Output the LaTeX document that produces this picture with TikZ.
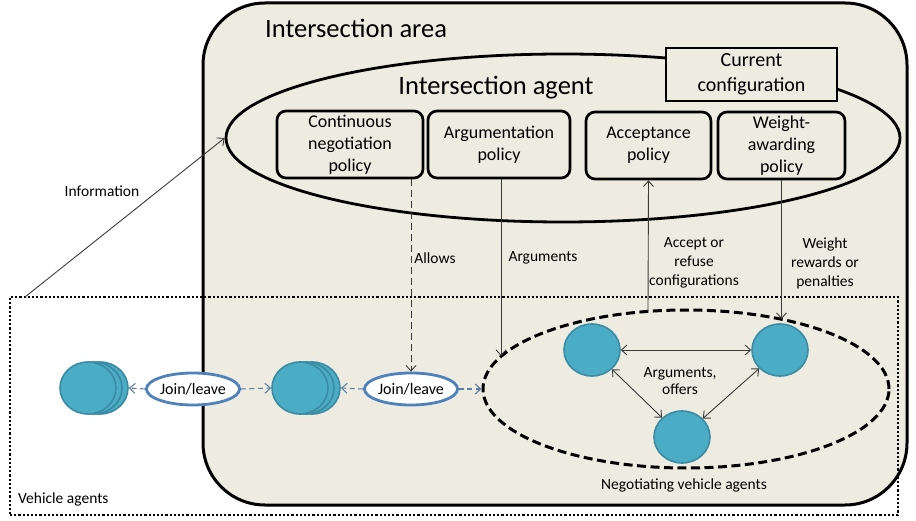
\documentclass[tikz,border=0pt]{standalone}
\usepackage{fontspec}
\setmainfont{Carlito}
\usetikzlibrary{shapes.geometric,arrows.meta}
\definecolor{beige}{HTML}{EEECE1}
\definecolor{vteal}{HTML}{4BACC6}
\definecolor{vborder}{HTML}{3A8BA3}
\definecolor{jlblue}{HTML}{4F81BD}
\definecolor{jlarrow}{HTML}{5F7FA6}
\definecolor{arrgray}{HTML}{3A3A3A}
\begin{document}
\begin{tikzpicture}[x=1pt,y=-1pt,
  policy/.style={draw, line width=2.7pt, rounded corners=9pt, fill=beige, align=center,
    font=\fontsize{18}{22}\selectfont, inner sep=0pt},
  veh/.style={ellipse, draw=vborder, fill=vteal, line width=1.6pt,
    minimum width=56pt, minimum height=52pt, inner sep=0pt},
  jl/.style={ellipse, draw=jlblue, fill=white, line width=2.8pt,
    minimum width=83pt, minimum height=32pt, inner sep=0pt, font=\fontsize{16}{19}\selectfont},
  lbl/.style={align=center, font=\fontsize{15.5}{19}\selectfont, inner sep=0pt},
  tip/.style={-{Straight Barb[length=5.5pt,width=10pt]}},
  thinarr/.style={draw=arrgray, line width=0.9pt, tip},
  dblarr/.style={draw=arrgray, line width=0.9pt,
    {Straight Barb[length=5.5pt,width=10pt]}-{Straight Barb[length=5.5pt,width=10pt]}},
  jlarr/.style={draw=jlarrow, line width=1.1pt, dash pattern=on 5pt off 3.5pt, tip}
]
\useasboundingbox (0,0) rectangle (916,521);

% Intersection area
\node[draw, line width=3pt, fill=beige, rounded corners=62pt,
  minimum width=704pt, minimum height=502pt, inner sep=0pt] (area) at (555,254) {};
\node[anchor=west, inner sep=0pt, font=\fontsize{26.5}{30}\selectfont] (areat) at (265,28) {Intersection area};

% Vehicle agents box
\node[draw, line width=2.4pt, dash pattern=on 2.2pt off 2pt,
  minimum width=888pt, minimum height=218pt, inner sep=0pt] (vbox) at (454,406) {};
\node[anchor=west, lbl] (vboxt) at (18,499) {Vehicle agents};

% Intersection agent
\node[ellipse, draw, line width=2.8pt, minimum width=674pt, minimum height=168pt, inner sep=0pt] (iag) at (563,138) {};
\node[inner sep=0pt, font=\fontsize{26.5}{30}\selectfont] (iagt) at (496,88) {Intersection agent};
\node[draw, line width=2.8pt, fill=beige, minimum width=171pt, minimum height=53pt, inner sep=0pt,
  align=center, font=\fontsize{20}{25}\selectfont] (cur) at (751.5,74.5) {Current\\configuration};

\node[policy, minimum width=146pt, minimum height=67pt] (cont) at (350,144.5) {Continuous\\negotiation\\policy};
\node[policy, minimum width=142pt, minimum height=67pt] (arg) at (499,144.5) {Argumentation\\policy};
\node[policy, minimum width=125pt, minimum height=67pt] (acc) at (648.5,145.5) {Acceptance\\policy};
\node[policy, minimum width=127pt, minimum height=67pt] (wt) at (781.5,145.5) {Weight-\\awarding\\policy};

% Negotiating vehicle agents
\node[ellipse, draw, line width=3pt, dash pattern=on 9pt off 4.5pt,
  minimum width=406pt, minimum height=158pt, inner sep=0pt] (neg) at (686,389) {};
\node[lbl] (negt) at (684,485) {Negotiating vehicle agents};
\node[veh] (n1) at (592,350) {};
\node[veh] (n2) at (780,350) {};
\node[veh] (n3) at (682,437) {};
\node[lbl, font=\fontsize{15.5}{16.5}\selectfont] (argoff) at (680,381) {Arguments,\\offers};
\draw[dblarr] (n1) -- (n2);
\draw[dblarr] (n1) -- (n3);
\draw[dblarr] (n2) -- (n3);

% Vehicle stacks
\node[veh] (s1c) at (100,388) {};
\node[veh] (s1b) at (94,388) {};
\node[veh] (s1a) at (88,388) {};
\node[veh] (s2c) at (312,388) {};
\node[veh] (s2b) at (306,388) {};
\node[veh] (s2a) at (300,388) {};

\node[jl] (jl1) at (193,389) {Join/leave};
\node[jl] (jl2) at (411,389) {Join/leave};

\draw[jlarr] (jl1.west) -- (s1c.east);
\draw[jlarr] (jl1.east) -- (s2a.west);
\draw[jlarr] (jl2.west) -- (s2c.east);
\draw[jlarr] (jl2.east) -- (neg.west);

% Policy connectors
\coordinate (argend) at (501,356);
\coordinate (accstart) at (648,311);
\coordinate (wtend) at (781.5,319);
\coordinate (infostart) at (25,297);

\draw[thinarr, dash pattern=on 7pt off 4pt] (jl2.north |- cont.south) -- (jl2.north);
\node[lbl] (allows) at (435,258) {Allows};
\draw[thinarr] (arg.south -| argend) -- (argend);
\node[lbl] (argl) at (543,258) {Arguments};
\draw[thinarr] (accstart) -- (acc.south);
\node[lbl] (accl) at (694,263) {Accept or\\refuse\\configurations};
\draw[thinarr] (wt.south) -- (wtend);
\node[lbl] (wtl) at (825,263) {Weight\\rewards or\\penalties};

\draw[thinarr] (infostart) -- (iag.west);
\node[lbl] (info) at (102,191) {Information};
\end{tikzpicture}
\end{document}
